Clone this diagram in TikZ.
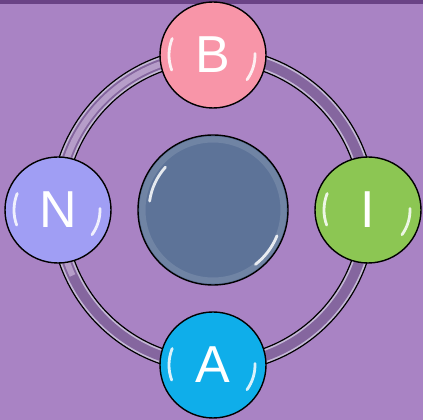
\documentclass[tikz,border=0pt]{standalone}
\usepackage{fontspec}
\newfontfamily\letterfont{Liberation Sans}
\usetikzlibrary{positioning}

\definecolor{backpurple}{HTML}{A983C4}
\definecolor{topstrip}{HTML}{6A4386}
\definecolor{ringlight}{HTML}{C4B8D6}
\definecolor{ringdark}{HTML}{7B5896}
\definecolor{hubblue}{HTML}{5D7398}
\definecolor{bpink}{HTML}{F895A8}
\definecolor{igreen}{HTML}{8CC653}
\definecolor{nlavender}{HTML}{A09EF4}
\definecolor{acyan}{HTML}{0FAEEA}

\tikzset{
    ball/.style={circle, draw=black, line width=1.4pt, minimum size=106pt, inner sep=0pt, outer sep=0pt, text=white, font=\letterfont\fontsize{52}{52}\selectfont},
    shine/.style={white, line width=2.8pt, line cap=round, opacity=0.85},
}

\begin{document}
\begin{tikzpicture}
    \fill[backpurple] (0,0) rectangle (423pt,420pt);
    \fill[topstrip] (0,416pt) rectangle (423pt,420pt);
    \useasboundingbox (0,0) rectangle (423pt,420pt);

    \node[ball, minimum size=150pt, fill=hubblue] (hub) at (213pt,210pt) {};
    \draw[white, opacity=0.12, line width=6pt] (hub.center) circle (70.5pt);

    % ring behind the balls
    \draw[line width=15pt, ringlight] (hub.center) circle (155pt);
    \draw[line width=10pt, ringdark, opacity=0.85] (hub.center) circle (155pt);
    \draw[line width=6pt, backpurple!60!white, opacity=0.7] (hub.center) ++(105:155pt) arc (105:205:155pt);
    \draw[line width=1.2pt] (hub.center) circle (147.5pt);
    \draw[line width=1.2pt] (hub.center) circle (162.5pt);

    \node[ball, fill=bpink, above=27pt of hub] (b) {B};
    \node[ball, fill=igreen, right=27pt of hub] (i) {I};
    \node[ball, fill=nlavender, left=27pt of hub] (n) {N};
    \node[ball, fill=acyan, below=27pt of hub] (a) {A};

    % glossy highlights
    \draw[shine] (hub.center) ++(138:64pt) arc (138:172:64pt);
    \draw[shine] (hub.center) ++(-22:69pt) arc (-22:-52:69pt);
    \draw[shine] (b.center) ++(158:44pt) arc (158:200:44pt);
    \draw[shine] (b.center) ++(2:42pt) arc (2:-36:42pt);
    \draw[shine] (i.center) ++(158:44pt) arc (158:200:44pt);
    \draw[shine] (i.center) ++(2:42pt) arc (2:-36:42pt);
    \draw[shine] (n.center) ++(158:44pt) arc (158:200:44pt);
    \draw[shine] (n.center) ++(2:42pt) arc (2:-36:42pt);
    \draw[shine] (a.center) ++(158:44pt) arc (158:200:44pt);
    \draw[shine] (a.center) ++(2:42pt) arc (2:-36:42pt);
\end{tikzpicture}
\end{document}
